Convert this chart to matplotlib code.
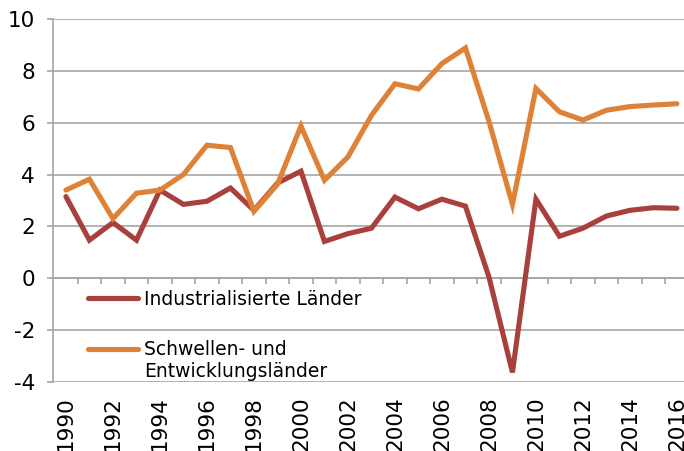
import matplotlib
matplotlib.use("Agg")
import matplotlib.pyplot as plt
from matplotlib.ticker import NullFormatter
import numpy as np

# Wachstum des realen BIP (%), 1990-2016
years = list(range(1990, 2017))
industrial = [3.15, 1.47, 2.15, 1.47, 3.4, 2.85, 2.97, 3.48, 2.62, 3.67, 4.13,
              1.42, 1.72, 1.93, 3.13, 2.68, 3.05, 2.78, 0.05, -3.63, 3.05,
              1.62, 1.93, 2.4, 2.62, 2.72, 2.7]
emerging = [3.4, 3.82, 2.3, 3.28, 3.4, 4.0, 5.13, 5.04, 2.58, 3.62, 5.87,
            3.78, 4.68, 6.28, 7.5, 7.3, 8.28, 8.88, 6.05, 2.85, 7.32,
            6.42, 6.1, 6.48, 6.62, 6.68, 6.73]
labels = ["Industrialisierte Länder", "Schwellen- und\nEntwicklungsländer"]
colors = ["#A8413E", "#DE8238"]
yticks = list(range(-4, 11, 2))
xticks = list(range(1990, 2017, 2))

GRID = "#A6A6A6"
YMIN, YMAX = -4, 10

fig = plt.figure(figsize=(6.84, 4.51), dpi=100)
ax = fig.add_axes([0.0775, 0.153, 0.9225, 0.805])

ax.plot(years, industrial, color=colors[0], lw=3.7, label=labels[0],
        solid_capstyle="round", solid_joinstyle="miter", zorder=3)
ax.plot(years, emerging, color=colors[1], lw=3.7, label=labels[1],
        solid_capstyle="round", solid_joinstyle="miter", zorder=3)

ax.set_ylim(YMIN, YMAX)
ax.set_xlim(1989.45, 2016.3)
ax.set_yticks(yticks)
ax.set_yticklabels([str(v) for v in yticks])
ax.yaxis.grid(True, color=GRID, lw=1.2)
ax.set_axisbelow(True)

for s in ["top", "right", "bottom"]:
    ax.spines[s].set_visible(False)
ax.spines["left"].set_color(GRID)
ax.spines["left"].set_linewidth(1.2)
ax.tick_params(axis="y", direction="out", length=4.5, width=1.2, color=GRID,
               pad=8.5, labelsize=15.5)

ax.set_xticks(xticks)
ax.set_xticklabels([str(v) for v in xticks], rotation=90)
ax.tick_params(axis="x", length=0, pad=10, labelsize=15.5)

# category tick marks sitting on the zero line
zero_loc = (0 - YMIN) / (YMAX - YMIN)
sec = ax.secondary_xaxis(zero_loc)
sec.set_xticks(np.arange(1990.5, 2016.5, 1))
sec.xaxis.set_major_formatter(NullFormatter())
sec.xaxis.set_ticks_position("bottom")
sec.tick_params(axis="x", direction="out", length=4.5, width=1.2, color=GRID,
                labelbottom=False, labeltop=False)
sec.spines["bottom"].set_color(GRID)
sec.spines["bottom"].set_linewidth(1.2)

leg = ax.legend(loc="upper left", bbox_to_anchor=(0.043, 0.275), frameon=False,
                fontsize=13.5, handlelength=2.7, handletextpad=0.33,
                labelspacing=1.65, borderaxespad=0)
# put the second handle level with the first line of its two-line label
h2 = leg.legend_handles[1]
h2.set_ydata(np.asarray(h2.get_ydata()) + 8.6)

fig.savefig("out.png", dpi=100)
